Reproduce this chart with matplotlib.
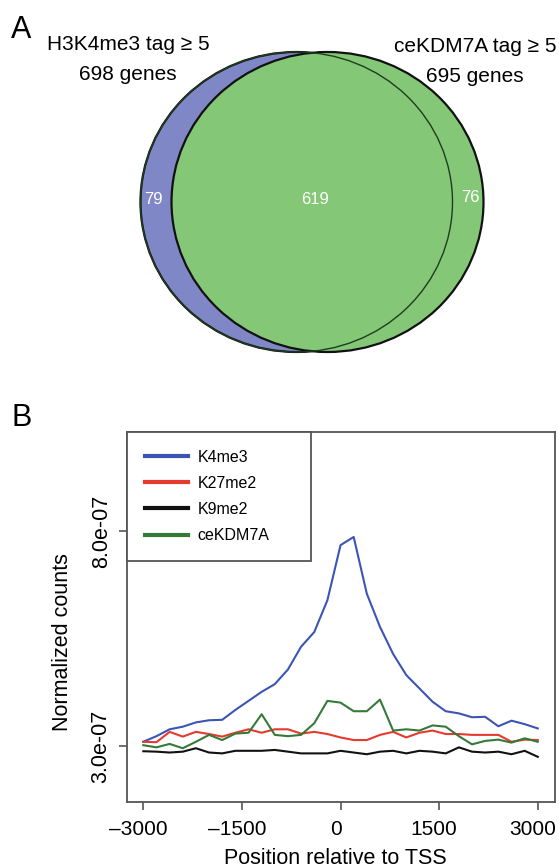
import numpy as np
import matplotlib
matplotlib.use("Agg")
import matplotlib.pyplot as plt
from matplotlib.patches import Ellipse
from matplotlib.transforms import ScaledTranslation

plt.rcParams['font.family'] = ['Liberation Sans', 'DejaVu Sans']

# ---------------- data ----------------
venn_labels = ["H3K4me3 tag \u2265 5", "ceKDM7A tag \u2265 5"]
venn_totals = [698, 695]
venn_only_a = 79
venn_both = 619
venn_only_b = 76

positions = np.arange(-3000, 3001, 200)
k4me3 = [3.10, 3.23, 3.39, 3.45, 3.55, 3.60, 3.61, 3.84, 4.05, 4.26, 4.44,
         4.78, 5.31, 5.65, 6.39, 7.67, 7.86, 6.54, 5.77, 5.14, 4.65, 4.34,
         4.03, 3.81, 3.76, 3.67, 3.68, 3.46, 3.59, 3.51, 3.41]
k27me2 = [3.10, 3.09, 3.33, 3.22, 3.33, 3.28, 3.22, 3.31, 3.39, 3.31, 3.39,
          3.39, 3.29, 3.33, 3.28, 3.20, 3.14, 3.14, 3.26, 3.33, 3.20, 3.31,
          3.36, 3.28, 3.28, 3.26, 3.26, 3.26, 3.10, 3.15, 3.14]
k9me2 = [2.88, 2.87, 2.85, 2.87, 2.95, 2.85, 2.83, 2.89, 2.89, 2.89, 2.91,
         2.87, 2.83, 2.83, 2.83, 2.89, 2.85, 2.81, 2.87, 2.89, 2.83, 2.89,
         2.87, 2.83, 2.97, 2.87, 2.85, 2.87, 2.81, 2.89, 2.75]
cekdm7a = [3.02, 2.97, 3.05, 2.95, 3.10, 3.26, 3.14, 3.29, 3.31, 3.74, 3.26,
           3.23, 3.26, 3.53, 4.05, 4.01, 3.81, 3.81, 4.08, 3.36, 3.39, 3.36,
           3.48, 3.45, 3.23, 3.04, 3.12, 3.15, 3.08, 3.18, 3.10]
series_names = ["K4me3", "K27me2", "K9me2", "ceKDM7A"]
series_values = [k4me3, k27me2, k9me2, cekdm7a]
series_colors = ["#3B55B5", "#E53A2E", "#111111", "#357A38"]
x_ticks = [-3000, -1500, 0, 1500, 3000]
x_tick_labels = ["\u20133000", "\u20131500", "0", "1500", "3000"]
y_ticks = [3.0e-7, 8.0e-7]
y_tick_labels = ["3.0e-07", "8.0e-07"]

# ---------------- figure ----------------
W, H = 559, 868
fig = plt.figure(figsize=(W / 100, H / 100), dpi=100)
fig.patch.set_facecolor("white")

# overlay axes in pixel coordinates (for panel A and free text)
ax0 = fig.add_axes([0, 0, 1, 1])
ax0.set_xlim(0, W)
ax0.set_ylim(H, 0)
ax0.axis("off")

# Venn diagram (panel A)
cy = 202
rx, ry = 156, 150
ca = 296.5
cb = 327.5
blue_fill = "#8087C6"
green_fill = "#84C777"
ax0.add_patch(Ellipse((ca, cy), 2 * rx, 2 * ry, facecolor=blue_fill,
                      edgecolor="#111111", lw=1.6, zorder=1))
ax0.add_patch(Ellipse((cb, cy), 2 * rx, 2 * ry, facecolor=green_fill,
                      edgecolor="#111111", lw=1.6, zorder=2))
ax0.add_patch(Ellipse((ca, cy), 2 * rx, 2 * ry, facecolor="none",
                      edgecolor="#1E3D1E", lw=1.0, zorder=3))

ax0.text(11, 30, "A", fontsize=22, ha="left", va="center")
ax0.text(128, 44, venn_labels[0], fontsize=15, ha="center", va="center")
ax0.text(128, 74, f"{venn_totals[0]} genes", fontsize=15, ha="center", va="center")
ax0.text(475, 46, venn_labels[1], fontsize=15, ha="center", va="center")
ax0.text(475, 77, f"{venn_totals[1]} genes", fontsize=15, ha="center", va="center")
ax0.text(153, 199, str(venn_only_a), fontsize=12, color="white", ha="center",
         va="center", zorder=5)
ax0.text(315, 200, str(venn_both), fontsize=12, color="white", ha="center",
         va="center", zorder=5)
ax0.text(470, 198, str(venn_only_b), fontsize=12, color="white", ha="center",
         va="center", zorder=5)

# panel B
ax0.text(11, 418, "B", fontsize=22, ha="left", va="center")
ax0.text(62, 642, "Normalized counts", fontsize=15.5, rotation=90,
         ha="center", va="center")
ax0.text(335, 859, "Position relative to TSS", fontsize=15.5,
         ha="center", va="center")

L, R, T, B = 127, 555, 432, 802
ax = fig.add_axes([L / W, (H - B) / H, (R - L) / W, (B - T) / H])
ax.patch.set_alpha(0)
for name, vals, col in zip(series_names, series_values, series_colors):
    ax.plot(positions, np.array(vals) * 1e-7, color=col, lw=1.5, label=name)

ax.set_xlim(-3248, 3262)
ax.set_ylim(1.70e-7, 10.30e-7)
ax.set_xticks(x_ticks)
ax.set_xticklabels(x_tick_labels, fontsize=15)
ax.set_yticks(y_ticks)
ax.set_yticklabels(y_tick_labels, fontsize=15.5, rotation=90, va="center")
frame_col = "#555555"
for sp in ax.spines.values():
    sp.set_color(frame_col)
    sp.set_linewidth(1.3)
ax.tick_params(axis="both", direction="out", length=6, width=1.2,
               color=frame_col)
ax.tick_params(axis="x", pad=7)
ax.tick_params(axis="y", pad=5)
shift = ScaledTranslation(-5 / 100, 0, fig.dpi_scale_trans)
for lab in ax.get_xticklabels():
    lab.set_transform(lab.get_transform() + shift)

leg = ax.legend(loc="upper left", bbox_to_anchor=(0, 1, 184 / 428, 0),
                mode="expand", borderaxespad=0, fontsize=11.5,
                handlelength=2.7, handletextpad=0.6, labelspacing=0.7,
                borderpad=1.1, fancybox=False, framealpha=1)
leg.get_frame().set_edgecolor(frame_col)
leg.get_frame().set_linewidth(1.3)
for ln in leg.get_lines():
    ln.set_linewidth(3)

fig.savefig("out.png", dpi=100)
